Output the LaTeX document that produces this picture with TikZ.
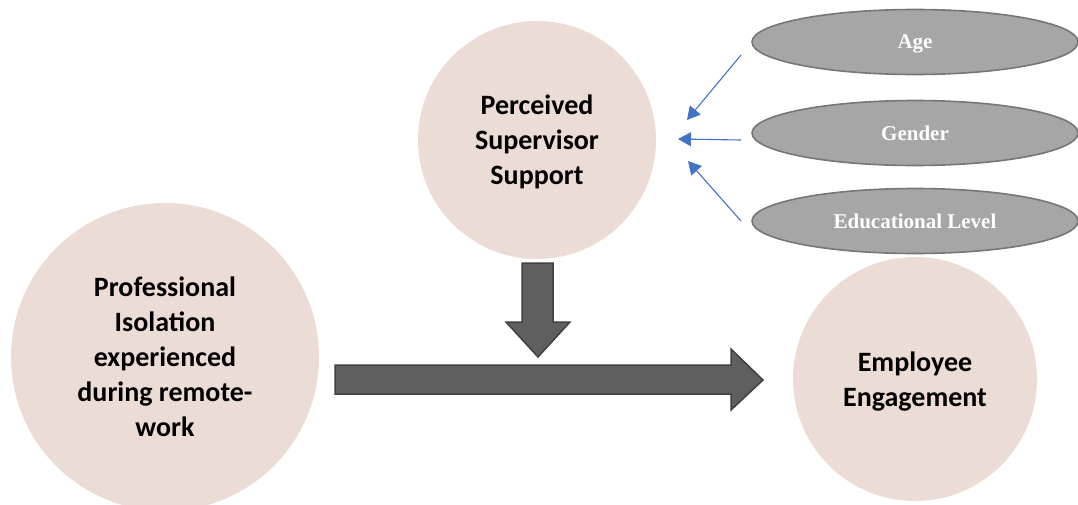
\documentclass[tikz,border=0pt]{standalone}
\usepackage{fontspec}
\setmainfont{Carlito}
\newfontfamily\ovalfont{Liberation Serif}
\usetikzlibrary{arrows.meta,shapes.geometric,positioning}
\definecolor{CirclePink}{RGB}{235,221,214}
\definecolor{OvalGray}{RGB}{166,166,166}
\definecolor{OvalEdge}{RGB}{118,118,118}
\definecolor{BlockGray}{RGB}{95,95,95}
\definecolor{BlockEdge}{RGB}{64,64,64}
\definecolor{LinkBlue}{RGB}{68,114,196}

\begin{document}
\begin{tikzpicture}[x=1pt,y=-1pt,>={Triangle[length=13pt,width=14pt]},
    bubble/.style={circle,fill=CirclePink,inner sep=0pt,align=center,text depth=0pt,font=\fontsize{28}{35}\selectfont\bfseries},
    oval/.style={ellipse,fill=OvalGray,draw=OvalEdge,line width=1.6pt,minimum width=326pt,minimum height=65pt,text depth=0pt,text=white,font=\ovalfont\fontsize{21}{25}\selectfont\bfseries},
    block/.style={fill=BlockGray,draw=BlockEdge,line width=1.5pt,line join=miter},
    link/.style={->,LinkBlue,line width=1.1pt}]
      \useasboundingbox (0,0) rectangle (1078,504);
      \node[bubble,minimum size=308pt] (iso) at (165,357) {Professional\\Isolation\\experienced\\during remote-\\work};
      \node[bubble,minimum size=238pt] (pss) at (537,140) {Perceived\\Supervisor\\Support};
      \node[bubble,minimum size=244pt] (eng) at (915,379) {Employee\\Engagement};
      \node[oval] (age) at (915,42) {Age};
      \node[oval] (gen) at (915,133) {Gender};
      \node[oval] (edu) at (915,221) {Educational Level};
      % control variables
      \coordinate (ageout) at (741,55);  \coordinate (agein) at (687,120);
      \coordinate (genout) at (741,140); \coordinate (genin) at (678,139);
      \coordinate (eduout) at (741,221); \coordinate (eduin) at (688,161);
      \draw[link] (ageout)--(agein);
      \draw[link] (genout)--(genin);
      \draw[link] (eduout)--(eduin);
      % block arrows
      \draw[block] (522,263)--(553,263)--(553,322)--(570,322)--(538,357)--(506,322)--(522,322)--cycle;
      \draw[block] (335,365)--(731,365)--(731,349)--(763,380)--(731,410)--(731,394)--(335,394)--cycle;
    \end{tikzpicture}
\end{document}
